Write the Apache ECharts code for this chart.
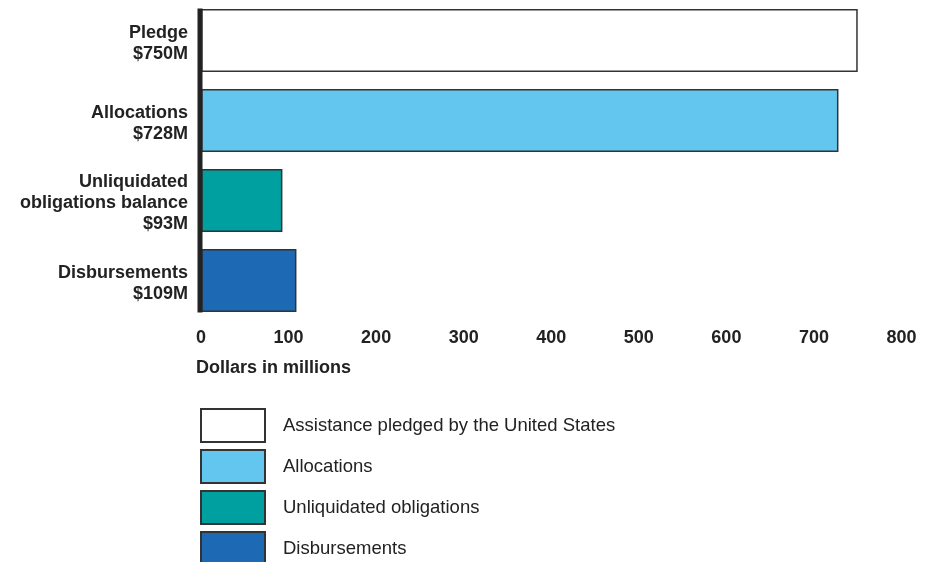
<!DOCTYPE html>
<html>
<head>
<meta charset="utf-8">
<script src="https://cdn.jsdelivr.net/npm/echarts@6/dist/echarts.min.js"></script>
<style>
  html, body { margin: 0; padding: 0; background: #fff; }
  #container { width: 930px; height: 562px; }
</style>
</head>
<body>
<div id="container"></div>
<script>
// data
var categories = ['Pledge', 'Allocations', 'Unliquidated\nobligations balance', 'Disbursements'];
var values = [750, 728, 93, 109];
var seriesNames = ['Assistance pledged by the United States', 'Allocations', 'Unliquidated obligations', 'Disbursements'];
var barColors = ['#ffffff', '#63c6ef', '#009fa0', '#1e69b3'];
var xTicks = [0, 100, 200, 300, 400, 500, 600, 700, 800];

var fontFam = '"Liberation Sans", Arial, Helvetica, sans-serif';

var dom = document.getElementById('container');
var myChart = echarts.init(dom, null, { renderer: 'canvas' });

// category labels: name + value
var yLabels = categories.map(function (c, i) {
    return c + '\n$' + values[i] + 'M';
});

// one series per category so the legend gets each colour
var series = seriesNames.map(function (name, i) {
    var d = values.map(function (v, j) { return j === i ? v : '-'; });
    return {
        name: name,
        type: 'bar',
        stack: 'one',
        barWidth: 63,
        itemStyle: {
            color: barColors[i],
            borderColor: '#333',
            borderWidth: 1.5
        },
        data: d
    };
});

var option = {
    animation: false,
    grid: {
        left: 201,
        right: 28.5,
        top: 0.5,
        height: 320
    },
    xAxis: {
        type: 'value',
        min: xTicks[0],
        max: xTicks[xTicks.length - 1],
        interval: 100,
        axisLine: { show: false },
        axisTick: { show: false },
        splitLine: { show: false },
        axisLabel: {
            margin: 9,
            color: '#222',
            fontFamily: fontFam,
            fontWeight: 'bold',
            fontSize: 18
        }
    },
    yAxis: {
        type: 'category',
        inverse: true,
        data: yLabels,
        axisLine: { show: false },
        axisTick: { show: false },
        axisLabel: {
            margin: 13,
            align: 'right',
            // small blank first line nudges the block down a few px
            formatter: function (value) {
                return '{s| }\n' + value.split('\n').map(function (l) {
                    return '{t|' + l + '}';
                }).join('\n');
            },
            rich: {
                s: { fontSize: 1, lineHeight: 6 },
                t: {
                    color: '#222',
                    fontFamily: fontFam,
                    fontWeight: 'bold',
                    fontSize: 18,
                    lineHeight: 21,
                    align: 'right'
                }
            }
        }
    },
    title: {
        text: 'Dollars in millions',
        left: 191,
        top: 354,
        textStyle: {
            color: '#222',
            fontFamily: fontFam,
            fontWeight: 'bold',
            fontSize: 18
        }
    },
    legend: {
        orient: 'vertical',
        left: 200,
        top: 408,
        height: 170,
        padding: 0,
        itemWidth: 64,
        itemHeight: 33,
        itemGap: 6,
        icon: 'rect',
        selectedMode: false,
        data: seriesNames,
        textStyle: {
            color: '#222',
            fontFamily: fontFam,
            fontSize: 18.5,
            padding: [3, 0, 0, 13]
        }
    },
    series: series
};

myChart.setOption(option, true);

// thick vertical axis line from the top of the first bar to the bottom of the last
var x0 = myChart.convertToPixel({ xAxisIndex: 0 }, 0);
var yTop = myChart.convertToPixel({ yAxisIndex: 0 }, 0) - 32;
var yBot = myChart.convertToPixel({ yAxisIndex: 0 }, categories.length - 1) + 32;
myChart.setOption({
    graphic: [{
        type: 'rect',
        shape: { x: x0 - 3.5, y: yTop, width: 5, height: yBot - yTop },
        style: { fill: '#222' },
        z: 100
    }]
});
</script>
</body>
</html>
